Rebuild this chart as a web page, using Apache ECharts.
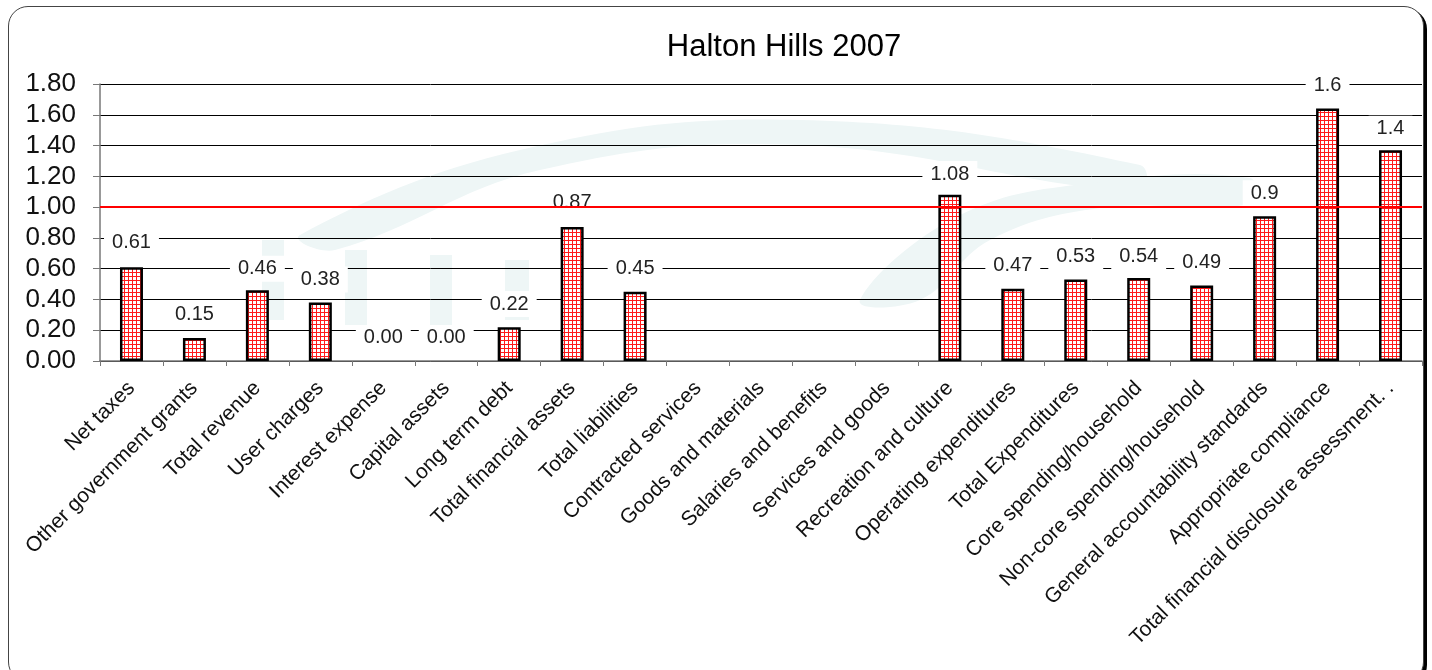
<!DOCTYPE html>
<html>
<head>
<meta charset="utf-8">
<script src="https://cdn.jsdelivr.net/npm/echarts@6/dist/echarts.min.js"></script>
<style>
  html, body { margin: 0; padding: 0; background: #fff; }
  #frame {
    position: absolute; left: 8px; top: 6px; width: 1416px; height: 676px;
    box-sizing: border-box; border: 1.5px solid #444; border-radius: 20px;
    box-shadow: 3px 3px 0 #000; background: #fff;
  }
  #app { position: absolute; left: 0; top: 0; width: 1432px; height: 670px; }
</style>
</head>
<body>
<div id="frame"></div>
<div id="app"></div>
<script>
const categories = [
  'Net taxes', 'Other government grants', 'Total revenue', 'User charges',
  'Interest expense', 'Capital assets', 'Long term debt', 'Total financial assets',
  'Total liabilities', 'Contracted services', 'Goods and materials',
  'Salaries and benefits', 'Services and goods', 'Recreation and culture',
  'Operating expenditures', 'Total Expenditures', 'Core spending/household',
  'Non-core spending/household', 'General accountability standards',
  'Appropriate compliance', 'Total financial disclosure assessment. .'
]
const values = [0.61, 0.15, 0.46, 0.38, 0, 0, 0.22, 0.87, 0.45, null, null, null, null,
  1.08, 0.47, 0.53, 0.54, 0.49, 0.94, 1.64, 1.37]
// data labels as printed, and the height (in axis units) where each one sits
const labelText = ['0.61', '0.15', '0.46', '0.38', '0.00', '0.00', '0.22', '0.87', '0.45',
  '', '', '', '', '1.08', '0.47', '0.53', '0.54', '0.49', '0.9', '1.6', '1.4']
const labelAt = [0.77, 0.30, 0.60, 0.53, 0.15, 0.15, 0.37, 1.03, 0.60, null, null, null, null,
  1.215, 0.62, 0.68, 0.68, 0.64, 1.09, 1.79, 1.51]
const yTicks = ['0.00', '0.20', '0.40', '0.60', '0.80', '1.00', '1.20', '1.40', '1.60', '1.80']
const target = 1.0

// red grid hatch for the bars
const tile = document.createElement('canvas')
tile.width = 4
tile.height = 4
const ctx = tile.getContext('2d')
ctx.fillStyle = '#fff'
ctx.fillRect(0, 0, 4, 4)
ctx.fillStyle = '#ff1a1a'
ctx.fillRect(0, 0, 4, 1)
ctx.fillRect(0, 0, 1, 4)

const font = 'Liberation Sans, Arial, sans-serif'
const wm = '#eef6f6'
const chart = echarts.init(document.getElementById('app'))

// zero bars have no visible outline in the original
const barData = values.map(v => v === 0 ? { value: v, itemStyle: { borderWidth: 0 } } : v)

chart.setOption({
  backgroundColor: 'transparent',
  animation: false,
  // faint logo watermark behind the plot
  graphic: [
    { type: 'polygon', z: -10, silent: true,
      shape: { smooth: 0.4, points: [[300, 235], [520, 150], [800, 120], [1140, 165],
        [1140, 192], [800, 145], [540, 170], [335, 250]] },
      style: { fill: wm } },
    { type: 'polygon', z: -10, silent: true,
      shape: { smooth: 0.4, points: [[860, 300], [960, 215], [1100, 182], [1250, 178],
        [1250, 204], [1100, 208], [990, 240], [920, 300]] },
      style: { fill: wm } },
    { type: 'rect', z: -10, silent: true, shape: { x: 262, y: 240, width: 22, height: 80 }, style: { fill: wm } },
    { type: 'rect', z: -10, silent: true, shape: { x: 345, y: 250, width: 22, height: 75 }, style: { fill: wm } },
    { type: 'rect', z: -10, silent: true, shape: { x: 430, y: 255, width: 22, height: 70 }, style: { fill: wm } },
    { type: 'rect', z: -10, silent: true, shape: { x: 505, y: 260, width: 24, height: 60 }, style: { fill: wm } }
  ],
  title: {
    text: 'Halton Hills 2007',
    left: 779,
    textAlign: 'center',
    top: 27,
    textStyle: { color: '#000', fontSize: 31, fontWeight: 'normal', fontFamily: font }
  },
  grid: { left: 100, right: 10, top: 84, height: 277 },
  xAxis: {
    type: 'category',
    data: categories,
    axisLine: { lineStyle: { color: '#777', width: 1.5 } },
    axisTick: { show: true, length: 5, lineStyle: { color: '#777' } },
    axisLabel: {
      interval: 0,
      rotate: 45,
      margin: 24,
      color: '#111',
      fontSize: 21,
      fontFamily: font
    }
  },
  yAxis: {
    type: 'value',
    min: 0,
    max: 1.8,
    interval: 0.2,
    axisLine: { show: true, lineStyle: { color: '#777', width: 1.5 } },
    axisTick: { show: true, length: 7, lineStyle: { color: '#777' } },
    axisLabel: {
      color: '#111',
      fontSize: 26,
      fontFamily: font,
      margin: 24,
      formatter: (v) => yTicks[Math.round(v / 0.2)]
    },
    splitLine: { lineStyle: { color: '#000', width: 1 } }
  },
  series: [
    {
      type: 'bar',
      data: barData,
      barWidth: 23,
      itemStyle: {
        color: { image: tile, repeat: 'repeat' },
        borderColor: '#000',
        borderWidth: 2.5
      },
      z: 3
    },
    {
      type: 'scatter',
      data: labelAt,
      symbol: 'circle',
      symbolSize: 1,
      itemStyle: { color: 'rgba(0,0,0,0)' },
      z: 4,
      label: {
        show: true,
        position: 'inside',
        formatter: (p) => labelText[p.dataIndex],
        color: '#222',
        opacity: 1,
        fontSize: 20,
        fontFamily: font,
        backgroundColor: '#fff',
        padding: [3, 8]
      }
    },
    {
      type: 'line',
      data: [],
      z: 6,
      markLine: {
        silent: true,
        symbol: 'none',
        label: { show: false },
        lineStyle: { color: '#ff0000', width: 2, type: 'solid' },
        data: [{ yAxis: target }]
      }
    }
  ]
})
</script>
</body>
</html>
